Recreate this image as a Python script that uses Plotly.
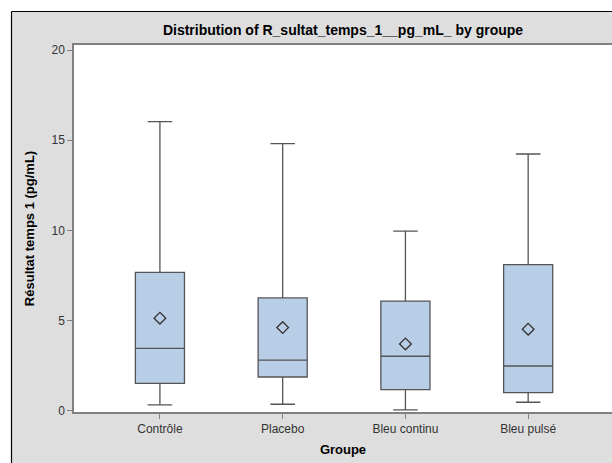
import plotly.graph_objects as go

categories = ["Contrôle", "Placebo", "Bleu continu", "Bleu pulsé"]
lower_whisker = [0.33, 0.37, 0.06, 0.48]
q1_values = [1.53, 1.88, 1.18, 1.01]
median_values = [3.47, 2.81, 3.03, 2.49]
q3_values = [7.68, 6.26, 6.09, 8.11]
upper_whisker = [16.03, 14.81, 9.97, 14.24]
mean_values = [5.14, 4.62, 3.71, 4.53]
y_ticks = [0, 5, 10, 15, 20]

W, H = 612, 463
L, R, T, B = 74, 0, 45, 51
pw, ph = W - L - R, H - T - B

def px_x(x):
    return (x - L) / pw

def px_y(y):
    return (H - B - y) / ph

FONT = "Liberation Sans, Arial, sans-serif"
LINE = "#555555"

fig = go.Figure()
fig.add_trace(go.Box(
    x=categories,
    q1=q1_values,
    median=median_values,
    q3=q3_values,
    lowerfence=lower_whisker,
    upperfence=upper_whisker,
    boxpoints=False,
    boxmean=False,
    width=0.4,
    whiskerwidth=0.5,
    fillcolor="#B8CEE6",
    line=dict(color=LINE, width=1.3),
    showlegend=False,
))
# mean markers drawn as the points of an invisible box trace
fig.add_trace(go.Box(
    x=categories,
    y=mean_values,
    boxpoints="all",
    jitter=0,
    pointpos=0,
    width=0.4,
    whiskerwidth=0,
    fillcolor="rgba(0,0,0,0)",
    line=dict(color="rgba(0,0,0,0)", width=0),
    marker=dict(symbol="diamond-open", size=9, color="#333333",
                line=dict(width=1.3, color="#333333")),
    showlegend=False,
))

shapes = [
    dict(type="rect", xref="paper", yref="paper", layer="below",
         x0=px_x(-5), x1=px_x(W + 5), y0=px_y(11.5), y1=px_y(-5),
         fillcolor="#FFFFFF", line=dict(width=0)),
    dict(type="rect", xref="paper", yref="paper", layer="below",
         x0=px_x(-5), x1=px_x(11.5), y0=px_y(H + 5), y1=px_y(-5),
         fillcolor="#FFFFFF", line=dict(width=0)),
    dict(type="line", xref="paper", yref="paper", layer="above",
         x0=px_x(11.5), x1=px_x(W + 5), y0=px_y(11.5), y1=px_y(11.5),
         line=dict(color="#000000", width=1.2)),
    dict(type="line", xref="paper", yref="paper", layer="above",
         x0=px_x(11.5), x1=px_x(11.5), y0=px_y(11.5), y1=px_y(H + 5),
         line=dict(color="#000000", width=1.2)),
]

fig.update_layout(
    template="none",
    width=W, height=H,
    margin=dict(l=L, r=R, t=T, b=B, pad=0),
    paper_bgcolor="#DEDEDE",
    plot_bgcolor="#FFFFFF",
    boxmode="overlay",
    shapes=shapes,
    showlegend=False,
    font=dict(family=FONT, size=12, color="#333333"),
    title=dict(
        text="<b>Distribution of R_sultat_temps_1__pg_mL_ by groupe</b>",
        font=dict(family=FONT, size=14, color="#000000"),
        x=0.5, xref="paper", xanchor="center",
        y=1 - 30 / H, yref="container", yanchor="middle",
    ),
    xaxis=dict(
        type="category",
        range=[-0.7, 3.683],
        showgrid=False, zeroline=False,
        showline=True, linecolor="#808080", linewidth=1.5, mirror=True,
        ticks="outside", ticklen=5, tickcolor="#808080", tickwidth=1,
        tickfont=dict(family=FONT, size=12, color="#333333"),
        title=dict(text="<b>Groupe</b>", font=dict(family=FONT, size=13, color="#000000"), standoff=10),
    ),
    yaxis=dict(
        range=[-0.06, 20.28],
        tickvals=y_ticks,
        showgrid=False, zeroline=False,
        showline=True, linecolor="#808080", linewidth=1.5,
        ticks="outside", ticklen=5, tickcolor="#808080", tickwidth=1,
        tickfont=dict(family=FONT, size=12, color="#333333"),
        title=dict(text="<b>Résultat temps 1 (pg/mL)</b>", font=dict(family=FONT, size=13, color="#000000"), standoff=14),
    ),
)

fig.write_html("out.html")
